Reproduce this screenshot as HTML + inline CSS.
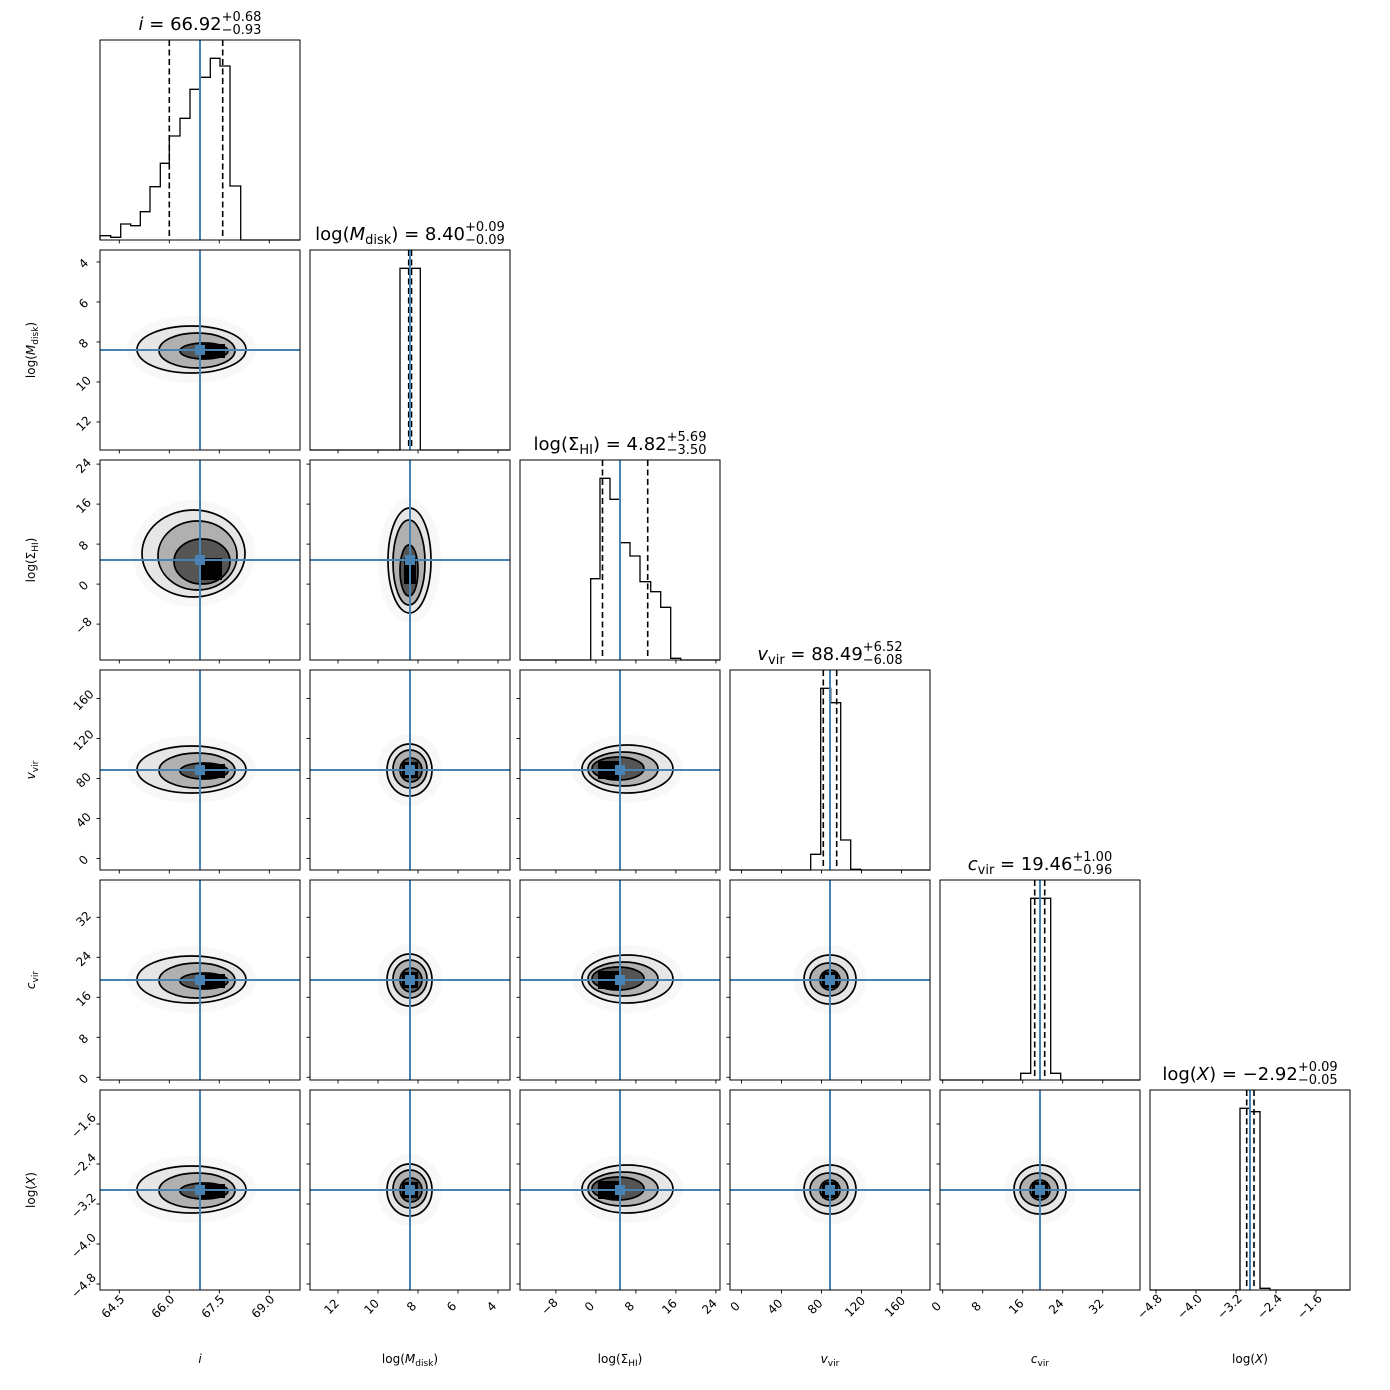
<!DOCTYPE html>
<html><head><meta charset="utf-8"><style>
html,body{margin:0;padding:0;background:#fff;}
svg{display:block;font-family:"DejaVu Sans","Liberation Sans",sans-serif;}
</style></head><body>
<svg id="s" width="1390" height="1390" viewBox="0 0 1390 1390" xmlns="http://www.w3.org/2000/svg"></svg>
<script>
const S=document.getElementById('s');let h='';
const BL='#4682b4';
function X0(c){return 100+210*c;} function Y0(r){return 40+210*r;}
function egg(ox,oy,e,g){const [L,R,T,B]=[e[0]-g,e[1]+g,e[2]-g,e[3]+g];const jx=(L+R)/2,jy=(T+B)/2;
return `M${ox+L},${oy+jy} A${jx-L},${jy-T} 0 0 1 ${ox+jx},${oy+T} A${R-jx},${jy-T} 0 0 1 ${ox+R},${oy+jy} A${R-jx},${B-jy} 0 0 1 ${ox+jx},${oy+B} A${jx-L},${B-jy} 0 0 1 ${ox+L},${oy+jy} Z`;}
const A=[[37,146,76,123],[59,135,83,118],[80,128,93,109],[100,94,25,14]];
const Bm=[[77,122,74,126],[83,117,80,118],[90,112,88,112],[92,92,16,16]];
const C=[[62,153,75,123],[68,138,82,116],[72,124,87,110],[78,91,22,18]];
const D=[[74,126,75,124],[80,118,83,116],[90,110,90,110],[92,92,16,16]];
const specs={'1,0':A,'2,0':[[42,145,50,137],[58,137,61,130],[74,130,79,124],[100,98,22,22]],'3,0':A,'4,0':A,'5,0':A,
'2,1':[[78,121,48,153],[83,115,60,145],[90,108,85,136],[94,98,12,26]],'3,1':Bm,'4,1':Bm,'5,1':Bm,
'3,2':C,'4,2':C,'5,2':C,'4,3':D,'5,3':D,'5,4':D};
const xt=[[[19.3,'64.5'],[69.3,'66.0'],[119.3,'67.5'],[169.3,'69.0']],
[[28,'12'],[68,'10'],[108,'8'],[148,'6'],[188,'4']],
[[35.9,'−8'],[75.9,'0'],[115.9,'8'],[155.9,'16'],[195.9,'24']],
[[11.5,'0'],[51.5,'40'],[91.5,'80'],[131.5,'120'],[171.5,'160']],
[[2.7,'0'],[42.7,'8'],[82.7,'16'],[122.7,'24'],[162.7,'32']],
[[6,'−4.8'],[46,'−4.0'],[86,'−3.2'],[126,'−2.4'],[166,'−1.6']]];
const yt=[null,[[12,'4'],[52,'6'],[92,'8'],[132,'10'],[172,'12']],
[[164.1,'−8'],[124.1,'0'],[84.1,'8'],[44.1,'16'],[4.1,'24']],
[[188.5,'0'],[148.5,'40'],[108.5,'80'],[68.5,'120'],[28.5,'160']],
[[197.3,'0'],[157.3,'8'],[117.3,'16'],[77.3,'24'],[37.3,'32']],
[[194,'−4.8'],[154,'−4.0'],[114,'−3.2'],[74,'−2.4'],[34,'−1.6']]];
for(let r=0;r<6;r++)for(let c=0;c<=r;c++){
 const x=X0(c),y=Y0(r);
 h+=`<rect x="${x}" y="${y}" width="200" height="200" fill="#fff"/>`;
 if(r!==c){
  const sp=specs[r+','+c];
  h+=`<path d="${egg(x,y,sp[0],10)}" fill="#f8f8f8"/>`;
  h+=`<path d="${egg(x,y,sp[0],0)}" fill="#e6e6e6" stroke="#000" stroke-width="1.7"/>`;
  h+=`<path d="${egg(x,y,sp[1],0)}" fill="#b0b0b0" stroke="#000" stroke-width="1.7"/>`;
  h+=`<path d="${egg(x,y,sp[2],0)}" fill="#555" stroke="#000" stroke-width="1.7"/>`;
  const k=sp[3];h+=`<rect x="${x+k[0]}" y="${y+k[1]}" width="${k[2]}" height="${k[3]}" fill="#000"/>`;
  h+=`<line x1="${x+100}" y1="${y}" x2="${x+100}" y2="${y+200}" stroke="${BL}" stroke-width="2"/>`;
  h+=`<line x1="${x}" y1="${y+100}" x2="${x+200}" y2="${y+100}" stroke="${BL}" stroke-width="2"/>`;
  h+=`<rect x="${x+95}" y="${y+95}" width="10" height="10" fill="${BL}"/>`;
  for(const t of yt[r]) h+=`<line x1="${x-3.5}" y1="${y+t[0]}" x2="${x}" y2="${y+t[0]}" stroke="#000" stroke-width="0.9"/>`;
  if(c===0) for(const t of yt[r]) h+=`<text x="0" y="0" transform="translate(${x-16},${y+t[0]+2}) rotate(-45)" font-size="12" text-anchor="middle" dominant-baseline="middle">${t[1]}</text>`;
 }
 for(const t of xt[c]) h+=`<line x1="${x+t[0]}" y1="${y+200}" x2="${x+t[0]}" y2="${y+203.5}" stroke="#000" stroke-width="0.9"/>`;
 if(r===5) for(const t of xt[c]) h+=`<text x="0" y="0" transform="translate(${x+t[0]-6},${y+217}) rotate(-45)" font-size="12" text-anchor="middle" dominant-baseline="middle">${t[1]}</text>`;
}
function hist(edges,hs,base,x0,x1){let d=`M${x0},${base} L${edges[0]},${base}`;for(let i=0;i<hs.length;i++){d+=` L${edges[i]},${hs[i]} L${edges[i+1]},${hs[i]}`;}d+=` L${edges[edges.length-1]},${base} L${x1},${base}`;h+=`<path d="${d}" fill="none" stroke="#000" stroke-width="1.3"/>`;}
function vl(x,y0,dash,col){h+=`<line x1="${x}" y1="${y0}" x2="${x}" y2="${y0+200}" stroke="${col}" stroke-width="${dash?1.6:2}" ${dash?'stroke-dasharray="6,3.5"':''}/>`;}
hist([100,110.7,120.7,130.7,140.3,150,160.3,169.3,180,190,200,210.3,220,230,240.7],[235.7,237.3,224,225.7,211.7,186.7,163.3,136,118.3,89.3,77.3,58.3,66,186],240,100,300);
vl(169.3,40,1,'#000');vl(222.7,40,1,'#000');vl(200,40,0,BL);
hist([400,410,420.3],[268.3,268.3],450,310,510);
vl(408.7,250,1,'#000');vl(411.5,250,1,'#000');vl(410,250,0,BL);
hist([590.7,600,610,620,630,640,650.7,660.7,670.7,680.7],[578.7,478.3,499.3,542.7,556,581.7,591.7,607.3,658.3],660,520,720);
vl(602.5,460,1,'#000');vl(647.7,460,1,'#000');vl(620,460,0,BL);
hist([810.7,820.7,830.7,840.7,850.7,860.7],[854.3,688.3,702.7,840,869.3],870,730,930);
vl(823.3,670,1,'#000');vl(836.7,670,1,'#000');vl(830,670,0,BL);
hist([1020.7,1030.7,1040.7,1050.7,1060.7],[1073.3,898.3,898.3,1073.3],1080,940,1140);
vl(1034.7,880,1,'#000');vl(1044.7,880,1,'#000');vl(1040,880,0,BL);
hist([1240,1250,1260,1270],[1108.3,1111.7,1288.3],1290,1150,1350);
vl(1246.7,1090,1,'#000');vl(1254,1090,1,'#000');vl(1250,1090,0,BL);
for(let r=0;r<6;r++)for(let c=0;c<=r;c++)h+=`<rect x="${X0(c)}" y="${Y0(r)}" width="200" height="200" fill="none" stroke="#000" stroke-width="1"/>`;
const titles=[];
function title(c,r,main,val,up,dn){const cx=X0(c)+100,by=Y0(r)-10,id='t'+c;
h+=`<text id="${id}m" x="0" y="${by}" font-size="18">${main}${val}</text><text id="${id}u" x="0" y="${by-9}" font-size="13">+${up}</text><text id="${id}d" x="0" y="${by+4}" font-size="13">−${dn}</text>`;
titles.push([id,cx]);}
title(0,0,'<tspan font-style="italic">i</tspan> = ','66.92','0.68','0.93');
title(1,1,'log(<tspan font-style="italic">M</tspan><tspan font-size="13" dy="4">disk</tspan><tspan dy="-4">) = </tspan>','8.40','0.09','0.09');
title(2,2,'log(Σ<tspan font-size="13" dy="4">HI</tspan><tspan dy="-4">) = </tspan>','4.82','5.69','3.50');
title(3,3,'<tspan font-style="italic">v</tspan><tspan font-size="13" dy="4">vir</tspan><tspan dy="-4"> = </tspan>','88.49','6.52','6.08');
title(4,4,'<tspan font-style="italic">c</tspan><tspan font-size="13" dy="4">vir</tspan><tspan dy="-4"> = </tspan>','19.46','1.00','0.96');
title(5,5,'log(<tspan font-style="italic">X</tspan>) = ','−2.92','0.09','0.05');
const xl=['<tspan font-style="italic">i</tspan>','log(<tspan font-style="italic">M</tspan><tspan font-size="9" dy="3">disk</tspan><tspan dy="-3">)</tspan>','log(Σ<tspan font-size="9" dy="3">HI</tspan><tspan dy="-3">)</tspan>','<tspan font-style="italic">v</tspan><tspan font-size="9" dy="3">vir</tspan>','<tspan font-style="italic">c</tspan><tspan font-size="9" dy="3">vir</tspan>','log(<tspan font-style="italic">X</tspan>)'];
for(let c=0;c<6;c++)h+=`<text x="${X0(c)+100}" y="1363" font-size="12" text-anchor="middle">${xl[c]}</text>`;
for(let r=1;r<6;r++)h+=`<text x="0" y="0" transform="translate(35,${Y0(r)+100}) rotate(-90)" font-size="12" text-anchor="middle">${xl[r]}</text>`;
S.innerHTML=h;
for(const [id,cx] of titles){const m=document.getElementById(id+'m'),u=document.getElementById(id+'u'),d=document.getElementById(id+'d');
 const wm=m.getComputedTextLength(),ws=Math.max(u.getComputedTextLength(),d.getComputedTextLength());
 const x0=cx-(wm+ws)/2;m.setAttribute('x',x0);u.setAttribute('x',x0+wm);d.setAttribute('x',x0+wm);}
</script>
</body></html>
